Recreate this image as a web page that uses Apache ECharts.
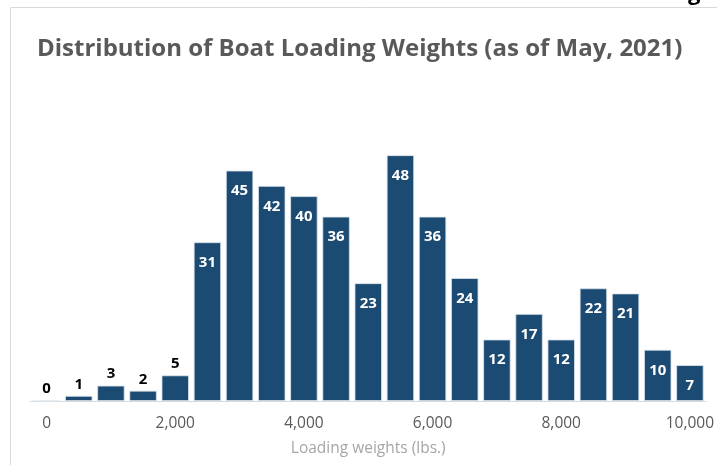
<!DOCTYPE html>
<html><head><meta charset="utf-8">
<script src="https://cdn.jsdelivr.net/npm/echarts@6/dist/echarts.min.js"></script>
<style>html,body{margin:0;padding:0;background:#fff}#c{width:717px;height:465px}</style>
</head><body><div id="c"></div>
<script>
const categories = ['0','500','1,000','1,500','2,000','2,500','3,000','3,500','4,000','4,500','5,000','5,500','6,000','6,500','7,000','7,500','8,000','8,500','9,000','9,500','10,000'];
const counts = [0,1,3,2,5,31,45,42,40,36,23,48,36,24,12,17,12,22,21,10,7];
const titleText = 'Distribution of Boat Loading Weights (as of May, 2021)';
const xAxisName = 'Loading weights (lbs.)';

const FONT = 'Open Sans';
const chart = echarts.init(document.getElementById('c'));
chart.setOption({
  animation: false,
  title: {text: titleText, left: 32, top: 32, textStyle: {fontFamily: FONT, fontSize: 24, fontWeight: 'bold', color: '#595959'}},
  graphic: [
    {type: 'rect', shape: {x: 10.5, y: 7.5, width: 720, height: 470}, style: {fill: 'none', stroke: '#d9d9d9', lineWidth: 1}, z: -1},
    {type: 'text', left: 688, top: -17, style: {text: 'g', font: 'bold 22px ' + FONT, fill: '#000'}}
  ],
  grid: {left: 30.5, right: 8.5, top: 145, bottom: 64},
  xAxis: {
    type: 'category', data: categories,
    axisTick: {show: false},
    axisLine: {lineStyle: {color: '#d9d9d9', width: 1}},
    axisLabel: {interval: 3, color: '#595959', fontFamily: FONT, fontSize: 15.5, margin: 15},
    name: xAxisName, nameLocation: 'middle', nameGap: 40,
    nameTextStyle: {color: '#a6a6a6', fontFamily: FONT, fontSize: 15.5}
  },
  yAxis: {type: 'value', min: 0, max: 50, show: false, splitLine: {show: false}},
  series: [{
    type: 'bar', data: counts.map(v => ({
      value: v,
      label: v >= 7 ? {position: 'insideTop', distance: 13, color: '#fff'} : {position: 'top', distance: 4, color: '#000'}
    })),
    barCategoryGap: '15%',
    itemStyle: {color: '#1b4a73', borderColor: '#dbe3ea', borderWidth: 0.8},
    label: {show: true, fontFamily: FONT, fontSize: 15, fontWeight: 'bold'}
  }]
});
</script></body></html>
